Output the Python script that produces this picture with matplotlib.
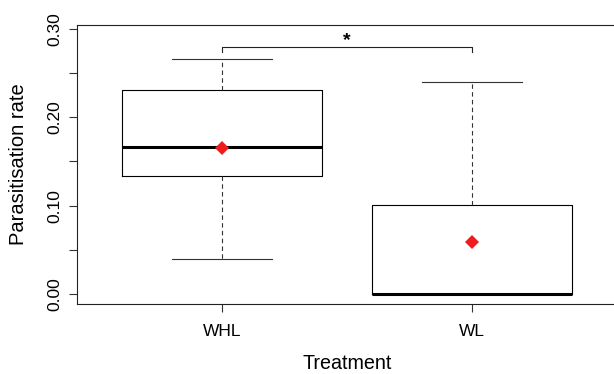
import numpy as np
import matplotlib
matplotlib.use('Agg')
import matplotlib.pyplot as plt

plt.rcParams['font.family'] = ['Liberation Sans', 'DejaVu Sans']

# Box summary statistics
treatments = ['WHL', 'WL']
whisker_low = [0.040, 0.000]
q1 = [0.134, 0.000]
median = [0.1665, 0.000]
q3 = [0.231, 0.1003]
whisker_high = [0.266, 0.240]
means = [0.165, 0.0584]

# significance bracket
bracket_groups = [1, 2]
bracket_height = 0.2795
bracket_tip = 0.0055
bracket_label = '*'

fig = plt.figure(figsize=(6.14, 3.74), dpi=100)
ax = fig.add_axes([77 / 614, 1 - 304 / 374, (616.6 - 77) / 614, (304 - 25) / 374])

stats = []
for i, name in enumerate(treatments):
    stats.append({'label': name, 'whislo': whisker_low[i], 'q1': q1[i],
                  'med': median[i], 'q3': q3[i], 'whishi': whisker_high[i],
                  'fliers': []})

pos = np.arange(1, len(treatments) + 1)
ax.bxp(stats, positions=pos, widths=0.8, capwidths=0.4,
       boxprops=dict(color='black', linewidth=0.8),
       whiskerprops=dict(color='#333333', linewidth=0.8, linestyle=(0, (4, 3))),
       capprops=dict(color='#333333', linewidth=0.8),
       medianprops=dict(color='black', linewidth=2.2, solid_capstyle='butt'),
       showfliers=False)

ax.plot(pos, means, linestyle='none', marker='D', markersize=7.5,
        color='#ee1c1c', markeredgewidth=0, zorder=5)

# bracket with star
bx = [bracket_groups[0], bracket_groups[0], bracket_groups[1], bracket_groups[1]]
by = [bracket_height - bracket_tip, bracket_height, bracket_height, bracket_height - bracket_tip]
ax.plot(bx, by, color='#222222', linewidth=0.8)
ax.text(np.mean(bracket_groups), bracket_height - 0.0025, bracket_label,
        ha='center', va='bottom', fontsize=14, fontweight='bold')

ax.set_xlim(0.42, 2.58)
ax.set_ylim(-0.0113, 0.3045)
ax.set_xticks(pos)
ax.set_xticklabels(treatments, fontsize=12.5)
ax.set_yticks([0.0, 0.1, 0.2, 0.3])
ax.set_yticklabels(['0.00', '0.10', '0.20', '0.30'], fontsize=12.5, rotation=90, va='center')
ax.set_yticks([0.05, 0.15, 0.25], minor=True)
ax.tick_params(axis='both', which='both', length=5.5, width=0.8, color='#333333')
ax.tick_params(axis='x', pad=9)
ax.tick_params(axis='y', pad=5)

for s in ax.spines.values():
    s.set_linewidth(0.8)
    s.set_color('#222222')

ax.set_xlabel('Treatment', fontsize=14.2, labelpad=11)
ax.set_ylabel('Parasitisation rate', fontsize=14.5, labelpad=14)

fig.savefig('out.png', dpi=100)
